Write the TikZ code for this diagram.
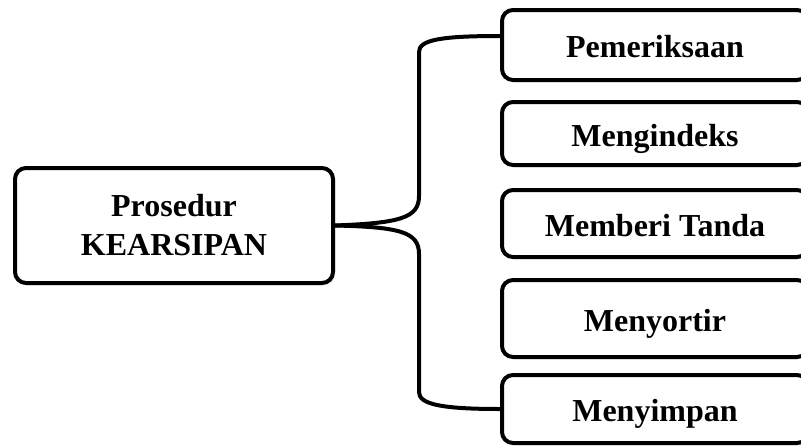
\documentclass[tikz,border=0pt]{standalone}
\usepackage{fontspec}
\setmainfont{Liberation Serif}
\usetikzlibrary{shadows}
\begin{document}
\begin{tikzpicture}[x=1pt,y=-1pt,
  box/.style={draw=black, line width=4pt, rounded corners=11pt, fill=white,
    inner sep=0pt, align=center,
    font=\fontsize{32}{39}\selectfont\bfseries,
    drop shadow={shadow xshift=2pt, shadow yshift=-2pt, opacity=0.25}},
  rbox/.style={box, minimum width=306pt, text height=25pt, text depth=0pt},
  brace/.style={line width=4pt, line cap=round, line join=round}]
\useasboundingbox (0,0) rectangle (801,445);
\clip (0,0) rectangle (801,445);
\node[box, minimum width=318pt, minimum height=115pt] (root) at (174,225.5) {Prosedur\\KEARSIPAN};
\node[rbox, minimum height=70pt] (b1) at (655,45) {Pemeriksaan};
\node[rbox, minimum height=63pt] (b2) at (655,133.5) {Mengindeks};
\node[rbox, minimum height=67pt] (b3) at (655,223.5) {Memberi Tanda};
\node[rbox, minimum height=77pt] (b4) at (655,318.5) {Menyortir};
\node[rbox, minimum height=68pt] (b5) at (655,409) {Menyimpan};
\coordinate (t1) at ([yshift=9pt]b1.west);
\draw[brace] (root.east) .. controls (400,223) and (419,218) .. (419,196)
  -- (419,52) .. controls (419,40) and (440,36) .. (t1);
\draw[brace] (root.east) .. controls (400,227) and (419,232) .. (419,254)
  -- (419,392) .. controls (419,404) and (440,409) .. (b5.west);
\end{tikzpicture}
\end{document}
